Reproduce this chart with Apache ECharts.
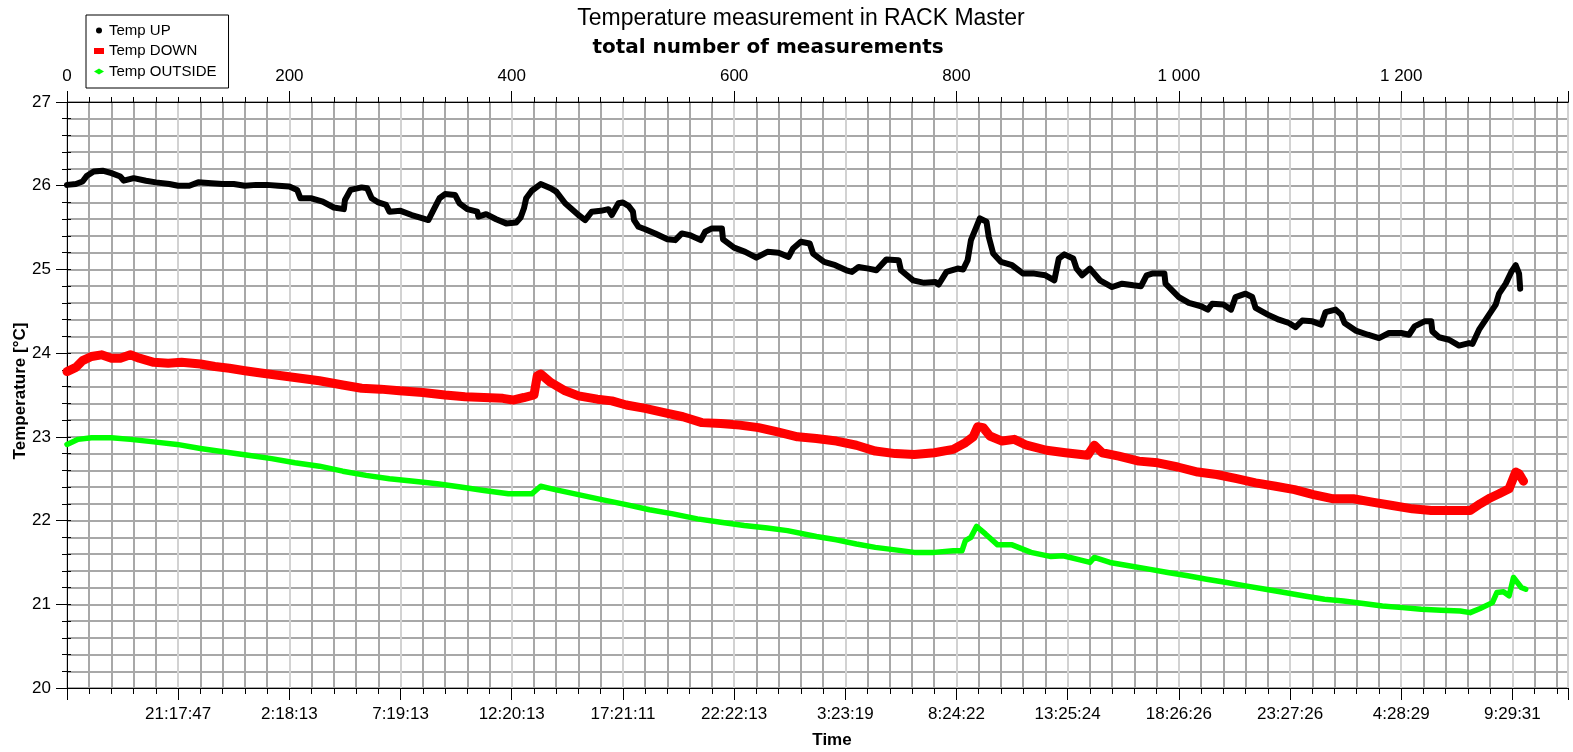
<!DOCTYPE html>
<html><head><meta charset="utf-8">
<script src="https://cdn.jsdelivr.net/npm/echarts@6/dist/echarts.min.js"></script>
<style>html,body{margin:0;padding:0;background:#fff}#c{width:1573px;height:752px}</style>
</head><body><div id="c"></div>
<script>
const timeLabels = ['21:17:47','2:18:13','7:19:13','12:20:13','17:21:11','22:22:13','3:23:19','8:24:22','13:25:24','18:26:26','23:27:26','4:28:29','9:29:31'];
const topTickLabels = ['0','200','400','600','800','1 000','1 200'];

const tempUp = [[0,26.01],[8,26.02],[14,26.05],[18,26.12],[24,26.17],[32,26.18],[40,26.15],[48,26.11],[51,26.06],[60,26.09],[71,26.06],[80,26.04],[92,26.02],[100,26.00],[110,26.00],[118,26.04],[130,26.03],[140,26.02],[150,26.02],[160,26.00],[170,26.01],[180,26.01],[190,26.00],[200,25.99],[207,25.95],[210,25.85],[220,25.85],[230,25.81],[240,25.74],[249,25.72],[250,25.83],[255,25.95],[265,25.98],[270,25.97],[274,25.85],[280,25.80],[287,25.77],[290,25.69],[300,25.70],[310,25.65],[320,25.61],[325,25.59],[330,25.72],[335,25.85],[340,25.90],[349,25.89],[353,25.79],[360,25.72],[369,25.69],[370,25.63],[377,25.66],[386,25.60],[395,25.55],[404,25.56],[408,25.62],[411,25.73],[413,25.85],[418,25.94],[426,26.02],[435,25.97],[440,25.93],[448,25.79],[460,25.65],[466,25.59],[472,25.69],[480,25.70],[487,25.72],[490,25.65],[496,25.79],[500,25.80],[505,25.76],[509,25.69],[510,25.59],[514,25.51],[520,25.48],[529,25.43],[540,25.36],[547,25.35],[553,25.43],[560,25.41],[570,25.35],[574,25.45],[580,25.49],[589,25.49],[590,25.36],[600,25.26],[610,25.21],[620,25.14],[630,25.21],[640,25.20],[649,25.15],[653,25.25],[660,25.33],[668,25.31],[671,25.19],[681,25.09],[691,25.05],[701,24.99],[706,24.97],[712,25.03],[721,25.01],[728,24.99],[737,25.12],[748,25.11],[750,24.99],[761,24.87],[771,24.84],[781,24.85],[784,24.82],[791,24.97],[801,25.01],[806,25.00],[810,25.11],[813,25.35],[818,25.51],[821,25.61],[827,25.57],[829,25.39],[833,25.19],[840,25.09],[850,25.05],[860,24.95],[870,24.95],[880,24.93],[888,24.87],[892,25.13],[897,25.18],[905,25.13],[908,25.01],[913,24.93],[920,25.01],[929,24.87],[940,24.79],[949,24.83],[959,24.81],[966,24.80],[971,24.93],[976,24.95],[987,24.95],[988,24.83],[1000,24.67],[1009,24.60],[1020,24.56],[1026,24.52],[1030,24.59],[1040,24.58],[1047,24.52],[1051,24.67],[1060,24.71],[1066,24.67],[1069,24.54],[1080,24.46],[1090,24.40],[1099,24.36],[1105,24.31],[1111,24.39],[1120,24.38],[1128,24.34],[1132,24.49],[1141,24.52],[1146,24.46],[1149,24.36],[1159,24.27],[1170,24.22],[1180,24.18],[1189,24.24],[1200,24.24],[1207,24.22],[1212,24.32],[1221,24.38],[1227,24.38],[1228,24.26],[1234,24.19],[1243,24.16],[1252,24.09],[1261,24.12],[1264,24.11],[1270,24.28],[1279,24.46],[1285,24.58],[1288,24.71],[1294,24.83],[1299,24.97],[1303,25.05],[1306,24.95],[1307,24.77]];

const tempDown = [[0,23.78],[8,23.83],[14,23.91],[22,23.96],[31,23.98],[40,23.94],[48,23.94],[57,23.98],[65,23.94],[78,23.89],[91,23.88],[103,23.89],[120,23.87],[133,23.84],[146,23.82],[160,23.79],[176,23.76],[193,23.73],[210,23.70],[227,23.67],[248,23.62],[265,23.58],[282,23.57],[299,23.55],[320,23.53],[340,23.50],[358,23.48],[375,23.47],[392,23.46],[401,23.44],[411,23.47],[420,23.50],[423,23.73],[426,23.75],[435,23.65],[448,23.55],[460,23.49],[477,23.45],[490,23.43],[503,23.38],[520,23.34],[537,23.29],[554,23.24],[571,23.17],[588,23.16],[605,23.14],[622,23.11],[639,23.06],[657,23.00],[674,22.98],[692,22.95],[710,22.90],[727,22.83],[745,22.80],[762,22.79],[780,22.81],[797,22.85],[808,22.93],[815,23.00],[819,23.12],[824,23.11],[830,23.01],[841,22.95],[852,22.97],[863,22.90],[881,22.84],[898,22.81],[918,22.78],[924,22.90],[931,22.81],[946,22.77],[964,22.71],[981,22.69],[999,22.64],[1017,22.58],[1034,22.55],[1052,22.50],[1069,22.45],[1087,22.41],[1104,22.37],[1121,22.31],[1139,22.26],[1157,22.26],[1174,22.22],[1192,22.18],[1210,22.14],[1227,22.12],[1245,22.12],[1262,22.12],[1271,22.20],[1280,22.27],[1288,22.32],[1297,22.38],[1303,22.58],[1306,22.56],[1310,22.47]];

const tempOutside = [[0,22.91],[10,22.97],[22,22.99],[40,22.99],[57,22.97],[78,22.94],[99,22.91],[120,22.86],[142,22.82],[163,22.78],[184,22.74],[205,22.69],[227,22.65],[248,22.59],[269,22.54],[290,22.50],[312,22.47],[333,22.44],[354,22.40],[375,22.36],[397,22.32],[418,22.32],[426,22.41],[439,22.37],[460,22.31],[481,22.25],[503,22.19],[524,22.13],[545,22.08],[567,22.02],[588,21.98],[609,21.94],[630,21.91],[648,21.88],[674,21.81],[692,21.77],[710,21.72],[727,21.68],[745,21.65],[762,21.62],[780,21.62],[797,21.64],[805,21.64],[808,21.76],[813,21.80],[818,21.93],[826,21.84],[837,21.71],[850,21.71],[867,21.62],[885,21.57],[896,21.58],[911,21.53],[920,21.50],[924,21.56],[938,21.50],[955,21.46],[973,21.42],[990,21.38],[1008,21.34],[1025,21.30],[1043,21.26],[1060,21.22],[1078,21.18],[1095,21.14],[1113,21.10],[1131,21.06],[1148,21.04],[1166,21.01],[1183,20.98],[1201,20.96],[1218,20.94],[1236,20.93],[1253,20.92],[1262,20.90],[1271,20.95],[1282,21.02],[1286,21.14],[1292,21.15],[1297,21.10],[1301,21.32],[1308,21.20],[1312,21.18]];

const FONT = '"Liberation Sans", Arial, sans-serif';
const GRID_DARK = '#a8a8a8';
const GRID_LIGHT = '#d2d2d2';
const X_MAX = 1350;

const chart = echarts.init(document.getElementById('c'), null, {renderer: 'canvas'});
const blackLine = {show: true, lineStyle: {color: '#000', width: 1}};
const option = {
  animation: false,
  backgroundColor: '#fff',
  grid: {left: 67, right: 5, top: 102, bottom: 64, containLabel: false},
  legend: {
    orient: 'vertical', left: 86, top: 15,
    padding: [8, 12, 9, 8], itemGap: 5.5, itemWidth: 10, itemHeight: 6,
    borderColor: '#000', borderWidth: 1, backgroundColor: '#fff',
    textStyle: {fontFamily: FONT, fontSize: 15, color: '#000', lineHeight: 15},
    data: [{name: 'Temp UP', icon: 'circle'}, {name: 'Temp DOWN', icon: 'rect'}, {name: 'Temp OUTSIDE', icon: 'diamond'}]
  },
  xAxis: [
    {type: 'value', position: 'bottom', min: 0, max: X_MAX, interval: 20,
     axisLine: blackLine, axisTick: {show: true, length: 6, lineStyle: {color: '#000'}},
     axisLabel: {show: false},
     splitLine: {show: true, lineStyle: {color: GRID_DARK, width: 2}}},
    {type: 'value', position: 'bottom', min: 0, max: X_MAX, interval: 100,
     axisLine: blackLine, axisTick: {show: true, length: 12, lineStyle: {color: '#000'}},
     axisLabel: {show: true, margin: 18, fontFamily: FONT, fontSize: 17, color: '#000',
       formatter: v => { const i = Math.round(v / 100) - 1; return (v % 100 === 0 && i >= 0 && i < timeLabels.length) ? timeLabels[i] : ''; }},
     splitLine: {show: true, lineStyle: {color: GRID_LIGHT, width: 2}}},
    {type: 'value', position: 'top', min: 0, max: X_MAX, interval: 20,
     axisLine: blackLine, axisTick: {show: true, length: 5, lineStyle: {color: '#000'}},
     axisLabel: {show: false}, splitLine: {show: false}},
    {type: 'value', position: 'top', min: 0, max: X_MAX, interval: 200,
     axisLine: blackLine, axisTick: {show: true, length: 11, lineStyle: {color: '#000'}},
     axisLabel: {show: true, margin: 17, fontFamily: FONT, fontSize: 17, color: '#000',
       formatter: v => { const i = Math.round(v / 200); return (v % 200 === 0 && i < topTickLabels.length) ? topTickLabels[i] : ''; }},
     splitLine: {show: false}}
  ],
  yAxis: [
    {type: 'value', position: 'left', min: 20, max: 27, interval: 0.2,
     axisLine: blackLine, axisTick: {show: true, length: 5, lineStyle: {color: '#000'}},
     axisLabel: {show: false},
     splitLine: {show: true, lineStyle: {color: GRID_DARK, width: 2}}},
    {type: 'value', position: 'left', min: 20, max: 27, interval: 1,
     axisLine: blackLine, axisTick: {show: true, length: 11, lineStyle: {color: '#000'}},
     axisLabel: {show: true, margin: 16, fontFamily: FONT, fontSize: 17, color: '#000'},
     splitLine: {show: false}},
    {type: 'value', position: 'right', min: 20, max: 27, interval: 0.2,
     axisLine: blackLine, axisTick: {show: true, length: 4, lineStyle: {color: '#000'}},
     axisLabel: {show: false}, splitLine: {show: false}}
  ],
  graphic: [
    {type: 'text', x: 801, y: 19, style: {text: 'Temperature measurement in RACK Master', font: '23px ' + FONT, fill: '#000', textAlign: 'center', textVerticalAlign: 'middle'}},
    {type: 'text', x: 768, y: 48, style: {text: 'total number of measurements', font: 'bold 20px "DejaVu Sans", sans-serif', fill: '#000', textAlign: 'center', textVerticalAlign: 'middle'}},
    {type: 'text', x: 832, y: 740, style: {text: 'Time', font: 'bold 17px ' + FONT, fill: '#000', textAlign: 'center', textVerticalAlign: 'middle'}},
    {type: 'text', x: 20, y: 391, rotation: Math.PI / 2, style: {text: 'Temperature [°C]', font: 'bold 17px ' + FONT, fill: '#000', textAlign: 'center', textVerticalAlign: 'middle'}}
  ],
  series: [
    {name: 'Temp UP', type: 'line', xAxisIndex: 0, yAxisIndex: 0, data: tempUp, showSymbol: false, symbol: 'circle',
     itemStyle: {color: '#000'}, lineStyle: {color: '#000', width: 6, cap: 'round', join: 'round'}, z: 5},
    {name: 'Temp DOWN', type: 'line', xAxisIndex: 0, yAxisIndex: 0, data: tempDown, showSymbol: false, symbol: 'rect',
     itemStyle: {color: '#ff0000'}, lineStyle: {color: '#ff0000', width: 9, cap: 'round', join: 'round'}, z: 4},
    {name: 'Temp OUTSIDE', type: 'line', xAxisIndex: 0, yAxisIndex: 0, data: tempOutside, showSymbol: false, symbol: 'diamond',
     itemStyle: {color: '#00ff00'}, lineStyle: {color: '#00ff00', width: 5.5, cap: 'round', join: 'round'}, z: 3}
  ]
};
chart.setOption(option);
</script></body></html>
